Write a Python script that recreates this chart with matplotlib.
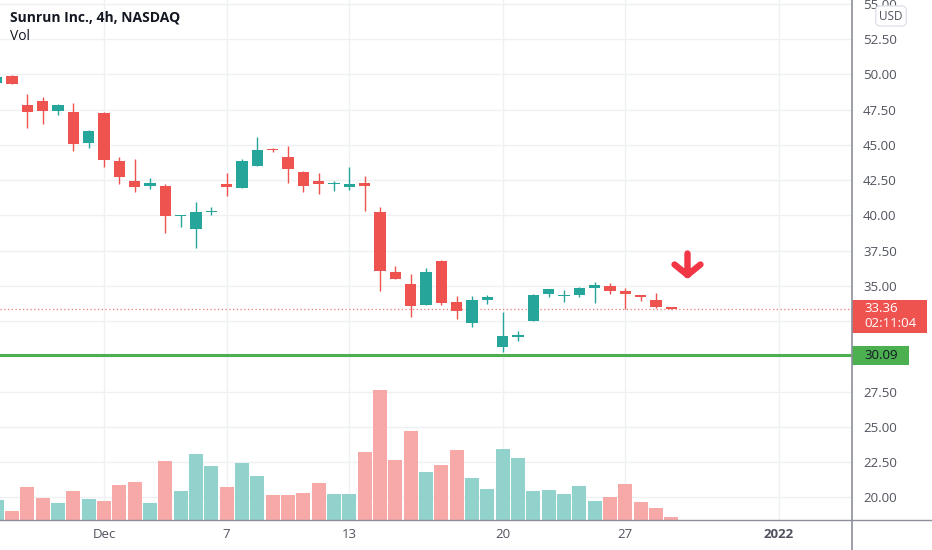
import numpy as np
import matplotlib
matplotlib.use('Agg')
import matplotlib.pyplot as plt
from matplotlib.patches import Rectangle
from matplotlib.path import Path
from matplotlib.markers import MarkerStyle
from matplotlib.lines import Line2D

plt.rcParams['font.family'] = ['Open Sans', 'DejaVu Sans']

# ============================================================
# data: RUN 4h candles, late Nov -> Dec 28 2021 (bar index 0..44)
# ============================================================
opens = [49.35, 49.85, 47.82, 48.13, 47.40, 47.35, 45.15, 47.23, 43.85, 42.45,
         42.08, 42.10, 39.95, 39.00, 40.20, 42.20, 41.96, 43.52, 44.68, 44.11,
         43.09, 42.45, 42.20, 42.03, 42.27, 40.20, 35.98, 35.13, 33.64, 36.78,
         33.83, 32.34, 33.99, 30.68, 31.40, 32.50, 34.40, 34.25, 34.35, 34.82,
         35.00, 34.65, 34.33, 33.99, 33.50]
highs = [49.90, 49.97, 48.58, 48.41, 47.90, 47.99, 46.05, 47.30, 44.10, 43.99,
         42.62, 42.22, 40.00, 40.92, 40.56, 42.98, 43.97, 45.53, 44.76, 44.92,
         43.12, 42.98, 42.45, 43.45, 42.79, 40.61, 36.40, 35.82, 36.24, 36.80,
         34.28, 34.28, 34.35, 33.12, 31.82, 34.40, 34.80, 34.68, 34.90, 35.24,
         35.22, 34.82, 34.33, 34.51, 33.52]
lows = [49.30, 49.29, 46.21, 46.45, 47.10, 44.58, 44.80, 43.45, 42.20, 41.67,
        41.86, 38.73, 39.15, 37.70, 40.02, 41.37, 41.96, 43.50, 44.47, 42.27,
        41.67, 41.51, 41.72, 41.79, 40.33, 34.65, 35.46, 32.81, 33.64, 33.64,
        32.67, 32.06, 33.69, 30.28, 31.11, 32.50, 34.20, 33.85, 34.22, 33.75,
        34.42, 33.35, 33.92, 33.40, 33.34]
closes = [49.83, 49.29, 47.35, 47.42, 47.82, 45.04, 46.00, 43.92, 42.74, 41.99,
          42.27, 39.97, 40.00, 40.20, 40.30, 42.03, 43.87, 44.63, 44.61, 43.26,
          42.10, 42.20, 42.30, 42.22, 42.08, 36.07, 35.46, 33.59, 35.98, 33.80,
          33.21, 33.99, 34.20, 31.46, 31.48, 34.37, 34.77, 34.30, 34.87, 35.05,
          34.63, 34.40, 34.18, 33.52, 33.36]
volumes = [200, 90, 330, 217, 170, 293, 210, 193, 350, 383,
           167, 593, 290, 663, 537, 327, 573, 437, 250, 250,
           267, 373, 263, 263, 677, 1300, 597, 890, 477, 547,
           697, 423, 310, 707, 617, 293, 297, 260, 340, 190,
           230, 357, 177, 123, 30]

date_ticks = [7, 15, 23, 33, 41, 51]
date_labels = ['Dec', '7', '13', '20', '27', '2022']
price_ticks = np.arange(20, 55.01, 2.5)

support_level = 30.09
countdown = '02:11:04'
arrow_bar, arrow_price = 45.06, 36.55

# ============================================================
# style
# ============================================================
UP, DOWN = '#26a69a', '#ef5350'
VOL_UP, VOL_DOWN = '#92d2cc', '#f7a9a7'
GRID = '#eef0f4'
TXT = '#50535e'
AXLINE = '#8c8f99'
FS = 9.5

W, H = 932, 550
AX_W, AX_H, AX_B = 852, 520, 30
XMIN, XMAX = 0.22, 55.79
YMIN, YMAX = 18.39, 55.27

fig = plt.figure(figsize=(W / 100, H / 100), dpi=100)
ax = fig.add_axes([0, AX_B / H, AX_W / W, AX_H / H])
# volume overlay lives on a twin axis (twinx moves ticks, so make it first)
ax2 = ax.twinx()
ax2.axis('off')

ax.set_xlim(XMIN, XMAX)
ax.set_ylim(YMIN, YMAX)

x = np.arange(len(opens))
o = np.array(opens); c = np.array(closes)
up = c >= o
cols = np.where(up, UP, DOWN)

# candles
ax.vlines(x, lows, highs, colors=cols, lw=1, zorder=3)
body_h = np.maximum(np.abs(c - o), 0.09)
ax.bar(x, body_h, bottom=np.minimum(o, c), width=0.74, color=cols, zorder=4)

# last price dotted line + support line
ax.axhline(closes[-1], color=DOWN, lw=0.9, ls=(0, (1, 2)), alpha=0.8, zorder=2)
ax.axhline(support_level, color='#4caf50', lw=2.2, zorder=5)

# red down arrow (stem + chevron)
arrow = Path([(0, 11), (0, -10.5), (-13, 0), (0, -10.5), (13, 0)],
             [Path.MOVETO, Path.LINETO, Path.MOVETO, Path.LINETO, Path.LINETO])
ax.plot([arrow_bar], [arrow_price], ls='none',
        marker=MarkerStyle(arrow, fillstyle='none', joinstyle='round', capstyle='round'),
        ms=18.7, mew=4.6, mec='#f23645', zorder=6)

# axes cosmetics
for s in ax.spines.values():
    s.set_visible(False)
ax.yaxis.tick_right()
ax.set_yticks(price_ticks)
# labels sitting under the price boxes are hidden, as on the chart
hidden = [abs(p - closes[-1]) < 1.3 or abs(p - support_level) < 0.7 for p in price_ticks]
ax.set_yticklabels(['' if h else f'{p:.2f}' for p, h in zip(price_ticks, hidden)])
ax.tick_params(axis='y', length=0, pad=8, labelsize=FS, labelcolor=TXT)
ax.set_xticks(date_ticks)
ax.set_xticklabels(date_labels)
ax.tick_params(axis='x', length=0, pad=6, labelsize=FS, labelcolor=TXT)
ax.get_xticklabels()[-1].set_fontweight('bold')
ax.grid(True, color=GRID, lw=1)
ax.set_axisbelow(True)

# price-scale labels
ppp = (YMAX - YMIN) / AX_H
yt = ax.get_yaxis_transform()
ax.add_patch(Rectangle((1.0, closes[-1] - 24 * ppp), 75 / AX_W, 33 * ppp,
                       transform=yt, clip_on=False, fc=DOWN, ec='none', zorder=7))
ax.text(1 + 12 / AX_W, closes[-1], f'{closes[-1]:.2f}', transform=yt, va='center',
        color='white', fontsize=FS, zorder=8, clip_on=False)
ax.text(1 + 12 / AX_W, closes[-1] - 14.5 * ppp, countdown, transform=yt, va='center',
        color='white', fontsize=FS, zorder=8, clip_on=False)
ax.add_patch(Rectangle((1.0, support_level - 9.5 * ppp), 57 / AX_W, 19 * ppp,
                       transform=yt, clip_on=False, fc='#4caf50', ec='none', zorder=7))
ax.text(1 + 12 / AX_W, support_level, f'{support_level:.2f}', transform=yt, va='center',
        color='#131722', fontsize=FS, zorder=8, clip_on=False)

# volume bars
ax2.set_ylim(0, max(volumes) * 4.0)
ax2.bar(x, volumes, width=0.92, color=np.where(up, VOL_UP, VOL_DOWN), zorder=2)
ax2.set_xlim(XMIN, XMAX)

# frame lines of the price/time scales
fig.add_artist(Line2D([0, 1], [AX_B / H] * 2, transform=fig.transFigure, color=AXLINE, lw=1))
fig.add_artist(Line2D([AX_W / W] * 2, [0, 1], transform=fig.transFigure, color=AXLINE, lw=1.2))

# header
fig.text(10 / W, 1 - 17 / H, 'Sunrun Inc., 4h, NASDAQ', ha='left', va='center',
         fontsize=10, fontweight='bold', color='#131722')
fig.text(10 / W, 1 - 36 / H, 'Vol', ha='left', va='center', fontsize=10, color='#131722')
fig.text(891 / W, 1 - 16 / H, 'USD', ha='center', va='center', fontsize=8.5, color=TXT,
         bbox=dict(boxstyle='round,pad=0.3,rounding_size=0.4', fc='white', ec='#e0e3eb'))

fig.savefig('out.png', dpi=100)
